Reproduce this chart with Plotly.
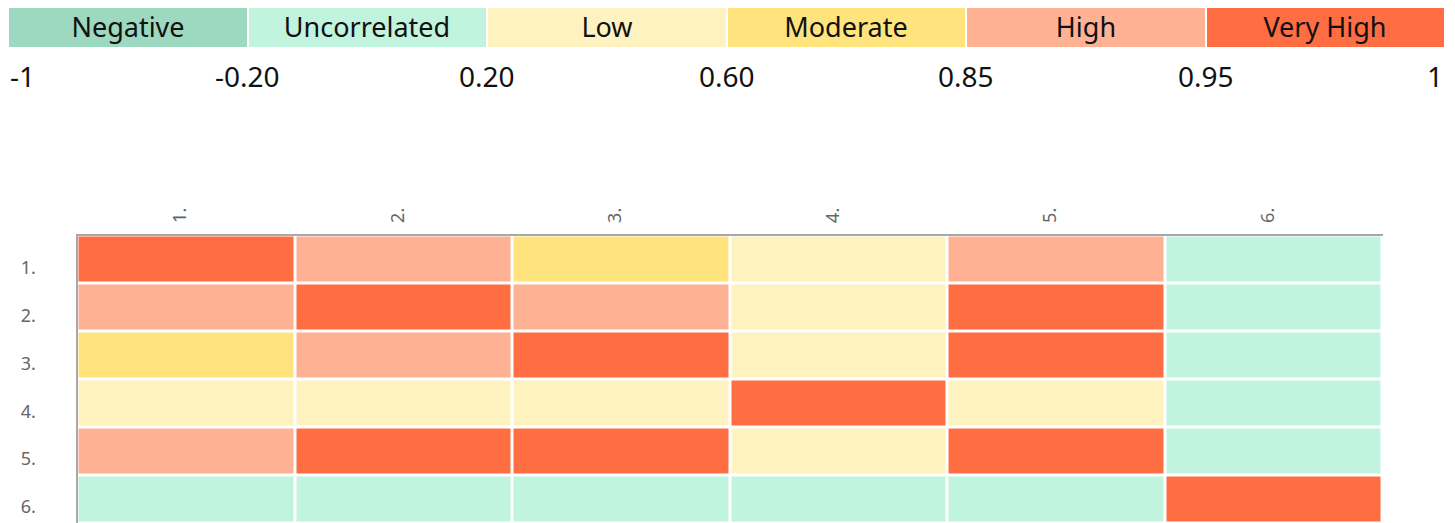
import plotly.graph_objects as go

# ---- data ----
variables = ["1.", "2.", "3.", "4.", "5.", "6."]
corr = [
    [1.00, 0.90, 0.72, 0.45, 0.89, 0.05],
    [0.90, 1.00, 0.88, 0.40, 0.97, 0.08],
    [0.72, 0.88, 1.00, 0.42, 0.96, 0.10],
    [0.45, 0.40, 0.42, 1.00, 0.38, 0.02],
    [0.89, 0.97, 0.96, 0.38, 1.00, 0.06],
    [0.05, 0.08, 0.10, 0.02, 0.06, 1.00],
]
bin_names = ["Negative", "Uncorrelated", "Low", "Moderate", "High", "Very High"]
bin_edges = [-1, -0.20, 0.20, 0.60, 0.85, 0.95, 1]
edge_labels = ["-1", "-0.20", "0.20", "0.60", "0.85", "0.95", "1"]
bin_colors = ["#9dd8c0", "#c0f4de", "#fff2c1", "#ffe47e", "#ffb194", "#ff6d43"]

# discrete colorscale over [-1, 1]
cs = []
for i, c in enumerate(bin_colors):
    lo = (bin_edges[i] + 1) / 2
    hi = (bin_edges[i + 1] + 1) / 2
    cs.append([lo, c])
    cs.append([hi, c])
bin_mid = [(bin_edges[i] + bin_edges[i + 1]) / 2 for i in range(len(bin_names))]

W, H = 1439, 515
FONT = "Noto Sans"

fig = go.Figure()

# main heatmap
fig.add_trace(go.Heatmap(
    z=corr, x=variables, y=variables,
    colorscale=cs, zmin=-1, zmax=1, showscale=False,
    xgap=3, ygap=3, xaxis="x", yaxis="y",
    hovertemplate="%{y} / %{x}: %{z:.2f}<extra></extra>",
))

# legend strip
fig.add_trace(go.Heatmap(
    z=[bin_mid], x=list(range(len(bin_names))), y=[0],
    text=[bin_names], texttemplate="%{text}",
    textfont=dict(family=FONT, size=27, color="#111111"),
    colorscale=cs, zmin=-1, zmax=1, showscale=False,
    xgap=2, ygap=0, xaxis="x2", yaxis="y2", hoverinfo="skip",
))

for i, lab in enumerate(edge_labels):
    anchor = "left" if i == 0 else ("right" if i == len(edge_labels) - 1 else "center")
    fig.add_annotation(
        x=i - 0.5, y=1 - 68 / H, xref="x2", yref="paper",
        text=lab, showarrow=False, xanchor=anchor, yanchor="middle",
        font=dict(family=FONT, size=28, color="#111111"),
    )

fig.update_layout(
    width=W, height=H,
    margin=dict(l=0, r=0, t=0, b=0),
    paper_bgcolor="white", plot_bgcolor="white",
    font=dict(family=FONT),
    xaxis=dict(
        domain=[69.5 / W, 1374.5 / W], side="top", anchor="y",
        showline=True, linecolor="#a8a8a8", linewidth=2, mirror=False,
        showgrid=False, zeroline=False, ticks="", tickangle=-90,
        tickfont=dict(family=FONT, size=18, color="#666666"),
        ticklabelstandoff=7, ticklabelshift=-6,
    ),
    yaxis=dict(
        domain=[0, 1 - 227.5 / H], autorange="reversed", anchor="x",
        showline=True, linecolor="#a8a8a8", linewidth=2,
        showgrid=False, zeroline=False, ticks="",
        tickfont=dict(family=FONT, size=18, color="#666666"),
        ticklabelstandoff=36, ticklabelshift=-8,
    ),
    xaxis2=dict(
        domain=[0, 1437 / W], anchor="y2",
        range=[-0.5, len(bin_names) - 0.5],
        showline=False, showgrid=False, zeroline=False, showticklabels=False, ticks="",
    ),
    yaxis2=dict(
        domain=[1 - 39 / H, 1], anchor="x2",
        showline=False, showgrid=False, zeroline=False, showticklabels=False, ticks="",
    ),
)

fig.write_html("out.html")
